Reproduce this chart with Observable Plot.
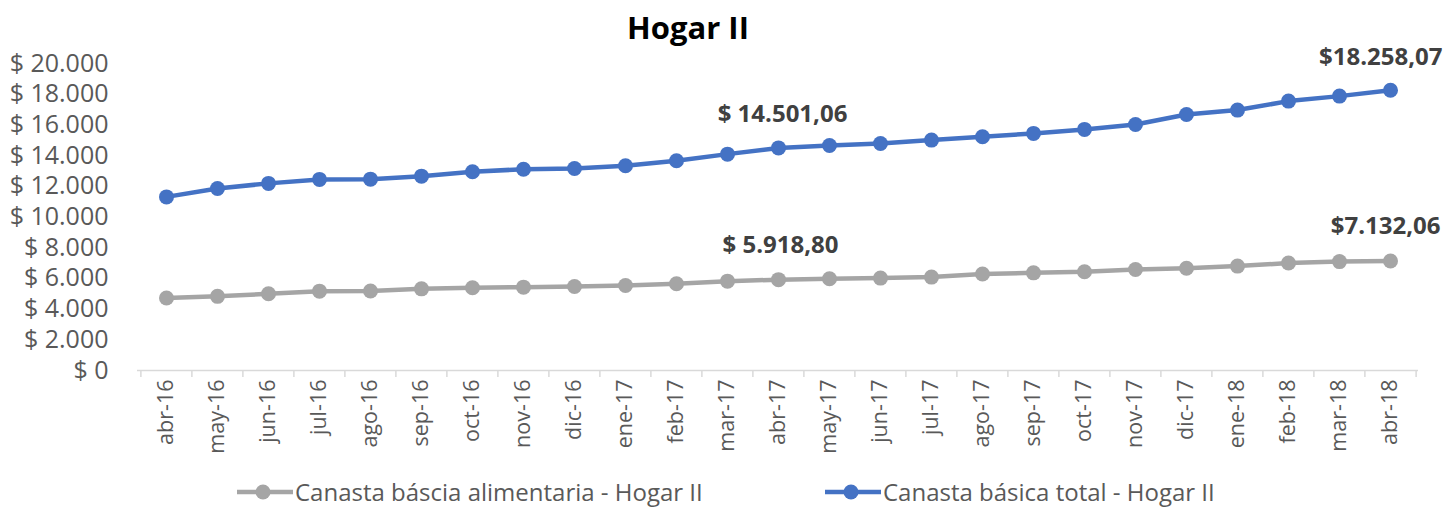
<!DOCTYPE html>
<html><head><meta charset="utf-8">
<script src="https://cdn.jsdelivr.net/npm/d3@7"></script>
<script src="https://cdn.jsdelivr.net/npm/@observablehq/plot@0.6"></script>
<style>
body{margin:0;background:#fff;font-family:"Open Sans",sans-serif;overflow:hidden;}
#title{height:48px;line-height:54px;text-align:center;font-weight:bold;font-size:31px;color:#000;padding-right:70px;}
#legend{position:relative;height:37px;font-size:24px;color:#595959;}
.item{position:absolute;top:8px;height:28px;display:flex;align-items:center;gap:2px;white-space:nowrap;line-height:28px;}
</style></head><body>
<div id="title">Hogar II</div>
<div id="chart"></div>
<div id="legend"></div>
<script>
const months = ["abr-16","may-16","jun-16","jul-16","ago-16","sep-16","oct-16","nov-16","dic-16","ene-17","feb-17","mar-17","abr-17","may-17","jun-17","jul-17","ago-17","sep-17","oct-17","nov-17","dic-17","ene-18","feb-18","mar-18","abr-18"];
const alimentaria = [4720,4830,5000,5170,5175,5320,5390,5430,5475,5540,5650,5820,5918.80,5975,6020,6085,6290,6360,6430,6580,6665,6800,7000,7095,7132.06];
const total = [11310,11860,12190,12450,12465,12660,12945,13115,13160,13335,13660,14095,14501.06,14660,14790,15010,15225,15445,15705,16030,16680,16965,17550,17875,18258.07];
const yTicks = [0,2000,4000,6000,8000,10000,12000,14000,16000,18000,20000];
const seriesNames = ["Canasta báscia alimentaria - Hogar II","Canasta básica total - Hogar II"];
const noteMonths = ["abr-17","abr-18"];
const alimNotes = ["$ 5.918,80","$7.132,06"];
const totalNotes = ["$ 14.501,06","$18.258,07"];
const colors = ["#A5A5A5","#4472C4"];

const rowsA = months.map((m,i)=>({month:m,value:alimentaria[i]}));
const rowsT = months.map((m,i)=>({month:m,value:total[i]}));
const notesA = noteMonths.map((m,i)=>({month:m,value:alimentaria[months.indexOf(m)],label:alimNotes[i]}));
const notesT = noteMonths.map((m,i)=>({month:m,value:total[months.indexOf(m)],label:totalNotes[i]}));

const W=1446, H=422, ml=137, mr=28, mt=15, mb=100;
const step=(W-ml-mr)/months.length;
const loc=d3.formatLocale({decimal:",",thousands:".",grouping:[3],currency:["$ ",""]});
const fmt=loc.format("$,.0f");
const noteStyle={fontSize:24,fontWeight:"bold",fill:"#404040",fontFamily:"Open Sans"};

const chart = Plot.plot({
  width:W,height:H,marginLeft:ml,marginRight:mr,marginTop:mt,marginBottom:mb,
  style:{fontFamily:"Open Sans",overflow:"visible",background:"#fff"},
  x:{type:"point",domain:months,padding:0.5},
  y:{domain:[0,20000]},
  marks:[
    Plot.ruleY([0],{stroke:"#d9d9d9",strokeWidth:1.5}),
    Plot.ruleX(months,{x:d=>d,y1:0,y2:0,dx:-step/2,insetBottom:-7,stroke:"#d9d9d9",strokeWidth:1.5}),
    Plot.ruleX(months.slice(-1),{x:d=>d,y1:0,y2:0,dx:step/2,insetBottom:-7,stroke:"#d9d9d9",strokeWidth:1.5}),
    Plot.axisX({tickRotate:-90,tickSize:0,tickPadding:9,fontSize:21.5,color:"#595959",label:null}),
    Plot.axisY({ticks:yTicks,tickFormat:fmt,tickSize:0,tickPadding:29,fontSize:25,color:"#595959",label:null}),
    Plot.line(rowsA,{x:"month",y:"value",stroke:colors[0],strokeWidth:4.5}),
    Plot.dot(rowsA,{x:"month",y:"value",fill:colors[0],r:7.5}),
    Plot.line(rowsT,{x:"month",y:"value",stroke:colors[1],strokeWidth:4.5}),
    Plot.dot(rowsT,{x:"month",y:"value",fill:colors[1],r:7.5}),
    Plot.text(notesA.slice(0,1),{x:"month",y:"value",text:"label",dx:2,dy:-34,textAnchor:"middle",...noteStyle}),
    Plot.text(notesA.slice(1),{x:"month",y:"value",text:"label",dx:50,dy:-35,textAnchor:"end",...noteStyle}),
    Plot.text(notesT.slice(0,1),{x:"month",y:"value",text:"label",dx:4,dy:-34,textAnchor:"middle",...noteStyle}),
    Plot.text(notesT.slice(1),{x:"month",y:"value",text:"label",dx:52,dy:-33,textAnchor:"end",...noteStyle})
  ]
});
document.getElementById("chart").appendChild(chart);

const legend=document.getElementById("legend");
const legendLeft=[237,825];
seriesNames.forEach((name,i)=>{
  const item=document.createElement("div");item.className="item";
  item.style.left=legendLeft[i]+"px";
  item.innerHTML=`<svg width="56" height="20"><line x1="0" y1="10" x2="56" y2="10" stroke="${colors[i]}" stroke-width="4.5"/><circle cx="26" cy="10" r="7.5" fill="${colors[i]}"/></svg><span>${name}</span>`;
  legend.appendChild(item);
});
</script>
</body></html>
